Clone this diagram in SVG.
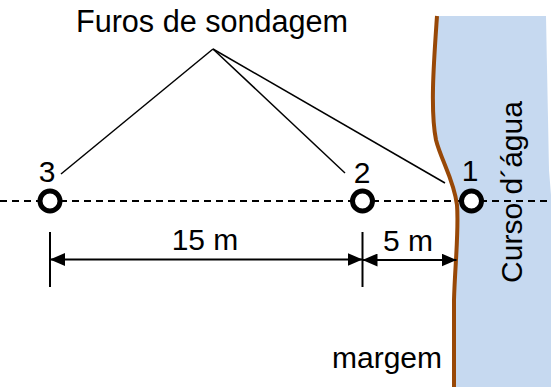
<svg xmlns="http://www.w3.org/2000/svg" width="551" height="387" viewBox="0 0 551 387">
  <style>
    text { font-family: "Liberation Sans", Arial, sans-serif; font-size: 30px; fill: #000; }
    .mid { text-anchor: middle; }
    .leader { stroke: #000; stroke-width: 1.5; fill: none; }
    .dim { stroke: #000; stroke-width: 2; fill: none; }
    .hole { fill: #fff; stroke: #000; stroke-width: 5; }
  </style>
  <defs>
    <marker id="arrow" markerUnits="userSpaceOnUse" markerWidth="15" markerHeight="13" refX="15" refY="6.5" orient="auto-start-reverse">
      <path d="M0,0 L15,6.5 L0,13 Z" fill="#000"/>
    </marker>
  </defs>

  <g id="water">
    <path d="M437,16 L546,16 L549,170 L551,195 L551,387 L454,387 L454,300 C455,265 459,230 457,205 C454,180 441,160 436,140 C430,110 434,60 437,16 Z" fill="#c6d9f0"/>
    <text class="mid" transform="translate(522,192) rotate(-90)">Curso d´água</text>
  </g>

  <g id="axis">
    <line x1="0" y1="201" x2="551" y2="201" stroke="#000" stroke-width="2" stroke-dasharray="7 5"/>
  </g>

  <g id="bank">
    <path d="M437,16 C434,60 430,110 436,140 C441,160 454,180 457,205 C459,230 455,265 454,300 L454,387" fill="none" stroke="#984807" stroke-width="4"/>
    <text class="mid" x="387" y="368">margem</text>
  </g>

  <g id="connectors">
    <line class="leader" x1="213" y1="49" x2="61" y2="174"/>
    <line class="leader" x1="213" y1="49" x2="345" y2="173"/>
    <line class="leader" x1="213" y1="49" x2="445" y2="183"/>
    <line class="dim" x1="50" y1="232" x2="50" y2="287"/>
    <line class="dim" x1="362.5" y1="232" x2="362.5" y2="287"/>
    <line class="dim" x1="50" y1="259.5" x2="362.5" y2="259.5" marker-start="url(#arrow)" marker-end="url(#arrow)"/>
    <line class="dim" x1="362.5" y1="260" x2="456.5" y2="260" marker-start="url(#arrow)" marker-end="url(#arrow)"/>
  </g>

  <g id="title">
    <text class="mid" x="212" y="32" style="font-size:30.6px">Furos de sondagem</text>
  </g>

  <g id="hole3">
    <circle class="hole" cx="50" cy="201" r="10"/>
    <text class="mid" x="47" y="182">3</text>
  </g>
  <g id="hole2">
    <circle class="hole" cx="362.5" cy="201" r="10"/>
    <text class="mid" x="362" y="183">2</text>
  </g>
  <g id="hole1">
    <circle class="hole" cx="471.5" cy="201" r="10"/>
    <text class="mid" x="470" y="181">1</text>
  </g>

  <g id="dim15">
    <text class="mid" x="205" y="250">15 m</text>
  </g>
  <g id="dim5">
    <text class="mid" x="408" y="251">5 m</text>
  </g>
</svg>
